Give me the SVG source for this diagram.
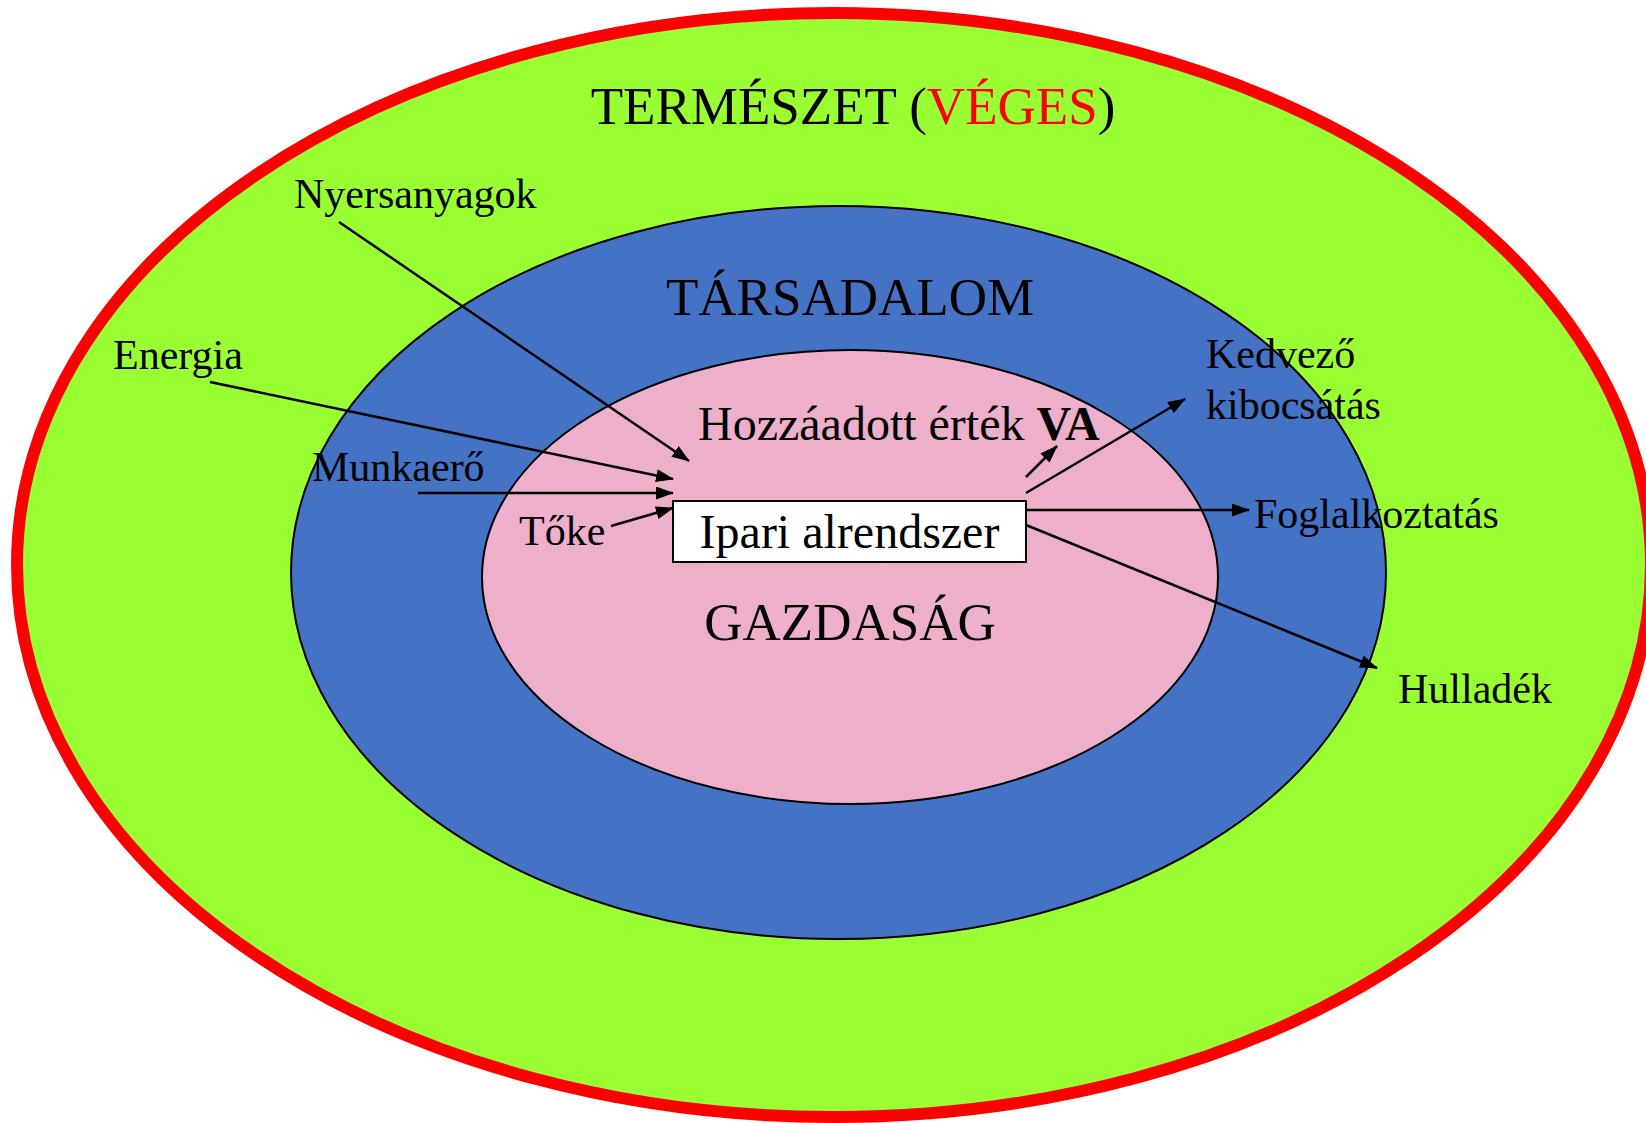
<svg xmlns="http://www.w3.org/2000/svg" width="1646" height="1123" viewBox="0 0 1646 1123">
<defs>
<marker id="ah" markerUnits="userSpaceOnUse" markerWidth="18" markerHeight="13" refX="17" refY="6.5" orient="auto">
<path d="M0,0 L18,6.5 L0,13 z" fill="#000"/>
</marker>
<style>
text{font-family:"Liberation Serif","Times New Roman",serif;fill:#000}
.t{font-size:53px}
.l{font-size:42px}
.c line{stroke:#000;stroke-width:2.5;marker-end:url(#ah)}
</style>
</defs>
<rect width="1646" height="1123" fill="#fff"/>
<g id="termeszet">
<ellipse cx="834" cy="565" rx="817" ry="552" fill="#99FF33" stroke="#FF0000" stroke-width="12"/>
<text class="t" x="853" y="124" text-anchor="middle">TERMÉSZET (<tspan fill="#FF0000">VÉGES</tspan>)</text>
</g>
<g id="tarsadalom">
<ellipse cx="838.5" cy="572.5" rx="547.5" ry="366.5" fill="#4472C4" stroke="#000" stroke-width="2"/>
<text class="t" x="850" y="315" text-anchor="middle">TÁRSADALOM</text>
</g>
<g id="gazdasag">
<ellipse cx="850" cy="577" rx="368" ry="227" fill="#EDAFCA" stroke="#000" stroke-width="2"/>
<text class="t" x="850" y="640" text-anchor="middle">GAZDASÁG</text>
</g>
<g id="hozzaadott">
<text x="698" y="440" font-size="48">Hozzáadott érték <tspan font-weight="bold">VA</tspan></text>
</g>
<g id="ipari">
<rect x="673" y="501" width="353" height="61" fill="#fff" stroke="#000" stroke-width="2"/>
<text x="849.5" y="548" font-size="48" text-anchor="middle">Ipari alrendszer</text>
</g>
<g id="nyersanyagok"><text class="l" x="294" y="208">Nyersanyagok</text></g>
<g id="energia"><text class="l" x="113" y="369">Energia</text></g>
<g id="munkaero"><text class="l" x="312" y="481">Munkaerő</text></g>
<g id="toke"><text class="l" x="519" y="545">Tőke</text></g>
<g id="kedvezo"><text class="l" x="1206" y="368">Kedvező</text><text class="l" x="1206" y="419">kibocsátás</text></g>
<g id="foglalkoztatas"><text class="l" x="1254" y="528">Foglalkoztatás</text></g>
<g id="hulladek"><text class="l" x="1398" y="703">Hulladék</text></g>
<g id="connectors" class="c">
<line x1="339" y1="222" x2="689" y2="461"/>
<line x1="210" y1="382" x2="673" y2="479"/>
<line x1="418" y1="493" x2="673" y2="493"/>
<line x1="611" y1="526" x2="673" y2="508"/>
<line x1="1026" y1="477" x2="1057" y2="446"/>
<line x1="1026" y1="493" x2="1185" y2="399"/>
<line x1="1026" y1="510" x2="1249" y2="510"/>
<line x1="1026" y1="525" x2="1377" y2="668"/>
</g>
</svg>
